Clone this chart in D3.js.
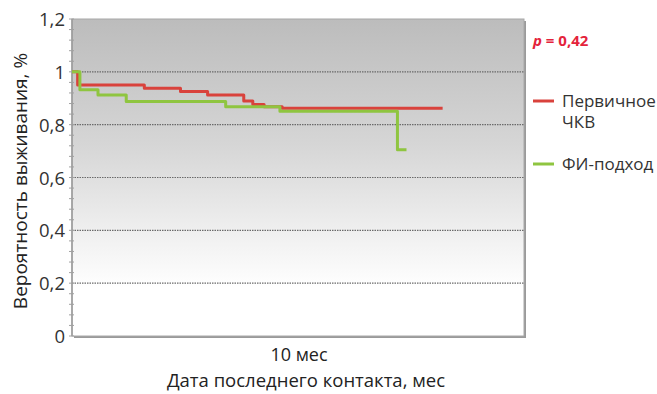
<!DOCTYPE html>
<html>
<head>
<meta charset="utf-8">
<script src="https://cdn.jsdelivr.net/npm/d3@7/dist/d3.min.js"></script>
<style>
  html, body { margin: 0; padding: 0; background: #fff; }
  svg { display: block; font-family: "Open Sans", "Noto Sans", sans-serif; }
</style>
</head>
<body>
<svg id="chart" width="657" height="394"></svg>
<script>
// Survival curves (months, probability)
const primaryTimes  = [0, 0.25, 3.2, 4.8, 6.0, 7.6, 8.0, 8.5, 9.3, 16.4];
const primaryValues = [1.0, 0.95, 0.938, 0.926, 0.912, 0.89, 0.876, 0.868, 0.862, 0.862];
const fiTimes  = [0, 0.35, 1.15, 2.4, 6.8, 9.2, 14.4, 14.8];
const fiValues = [1.0, 0.932, 0.912, 0.888, 0.868, 0.851, 0.705, 0.705];

const yTicks = [0, 0.2, 0.4, 0.6, 0.8, 1.0, 1.2];
const yTickLabels = ["0", "0,2", "0,4", "0,6", "0,8", "1", "1,2"];
const xTicks = [10];
const xTickLabels = ["10 мес"];
const seriesNames = ["Первичное ЧКВ", "ФИ-подход"];
const pValueLabel = "0,42";

const svg = d3.select("#chart");
const plotLeft = 72, plotRight = 524, plotTop = 19, plotBottom = 336;

const x = d3.scaleLinear().domain([0, 20]).range([plotLeft, plotRight]);
const y = d3.scaleLinear().domain([0, 1.2]).range([plotBottom, plotTop]);

// background gradient
const defs = svg.append("defs");
const grad = defs.append("linearGradient").attr("id", "bg")
  .attr("x1", 0).attr("y1", 0).attr("x2", 0).attr("y2", 1);
grad.append("stop").attr("offset", "0%").attr("stop-color", "#bcbcbc");
grad.append("stop").attr("offset", "40%").attr("stop-color", "#d6d6d6");
grad.append("stop").attr("offset", "70%").attr("stop-color", "#f2f2f2");
grad.append("stop").attr("offset", "85%").attr("stop-color", "#ffffff");
grad.append("stop").attr("offset", "100%").attr("stop-color", "#ffffff");

// frame shadow
svg.append("rect")
  .attr("x", plotLeft + 2).attr("y", plotTop + 2)
  .attr("width", plotRight - plotLeft).attr("height", plotBottom - plotTop)
  .attr("fill", "#9a9a9a");
svg.append("rect")
  .attr("x", plotLeft).attr("y", plotTop)
  .attr("width", plotRight - plotLeft).attr("height", plotBottom - plotTop)
  .attr("fill", "url(#bg)")
  .attr("stroke", "#a8a8a8").attr("stroke-width", 1);

// dotted gridlines
svg.append("g").selectAll("line")
  .data(yTicks.filter(d => d > 0 && d < 1.2))
  .join("line")
  .attr("x1", plotLeft).attr("x2", plotRight)
  .attr("y1", d => y(d)).attr("y2", d => y(d))
  .attr("stroke", "#6a6a6a").attr("stroke-width", 1.2)
  .attr("stroke-dasharray", "1.5,1");

// left axis with minor ticks
const minor = d3.range(0, 1.2001, 0.04);
const yAxis = svg.append("g");
yAxis.append("line")
  .attr("x1", plotLeft).attr("x2", plotLeft).attr("y1", plotTop).attr("y2", plotBottom)
  .attr("stroke", "#9a9a9a").attr("stroke-width", 1.5);
yAxis.selectAll("line.tick")
  .data(minor)
  .join("line").attr("class", "tick")
  .attr("x1", plotLeft - 3).attr("x2", plotLeft + 2)
  .attr("y1", d => y(d)).attr("y2", d => y(d))
  .attr("stroke", "#a0a0a0").attr("stroke-width", 1);
yAxis.selectAll("text")
  .data(yTicks)
  .join("text")
  .attr("x", plotLeft - 7).attr("y", d => y(d))
  .attr("dy", "0.38em")
  .attr("text-anchor", "end")
  .attr("font-size", 18.5)
  .attr("fill", "#333")
  .text((d, i) => yTickLabels[i]);

// x tick labels
svg.append("g").selectAll("text")
  .data(xTicks)
  .join("text")
  .attr("x", d => x(d) + 1).attr("y", 361)
  .attr("text-anchor", "middle")
  .attr("font-size", 18)
  .attr("fill", "#222")
  .text((d, i) => xTickLabels[i]);

// axis titles
svg.append("text")
  .attr("x", 306).attr("y", 387)
  .attr("text-anchor", "middle")
  .attr("font-size", 18.5)
  .attr("fill", "#222")
  .text("Дата последнего контакта, мес");
svg.append("text")
  .attr("transform", `translate(27, 181) rotate(-90)`)
  .attr("text-anchor", "middle")
  .attr("font-size", 19)
  .attr("fill", "#222")
  .text("Вероятность выживания, %");

// curves
const line = d3.line()
  .x(d => x(d[0])).y(d => y(d[1]))
  .curve(d3.curveStepAfter);
const primary = primaryTimes.map((t, i) => [t, primaryValues[i]]);
const fi = fiTimes.map((t, i) => [t, fiValues[i]]);
const colors = ["#d9423c", "#8fc540"];

svg.append("path").datum(primary)
  .attr("d", line).attr("fill", "none")
  .attr("stroke", colors[0]).attr("stroke-width", 3)
  .attr("stroke-linejoin", "round");
svg.append("path").datum(fi)
  .attr("d", line).attr("fill", "none")
  .attr("stroke", colors[1]).attr("stroke-width", 3)
  .attr("stroke-linejoin", "round");

// p-value
const p = svg.append("text")
  .attr("x", 533).attr("y", 46)
  .attr("font-size", 15).attr("font-weight", "bold")
  .attr("fill", "#e4233b");
p.append("tspan").attr("font-style", "italic").text("p");
p.append("tspan").text(" = " + pValueLabel);

// legend
const legend = svg.append("g");
const legendRows = [
  { y: 101, lines: ["Первичное", "ЧКВ"] },
  { y: 164, lines: ["ФИ-подход"] }
];
legendRows.forEach((r, i) => {
  legend.append("line")
    .attr("x1", 533).attr("x2", 554)
    .attr("y1", r.y).attr("y2", r.y)
    .attr("stroke", colors[i]).attr("stroke-width", 3);
  r.lines.forEach((s, j) => {
    legend.append("text")
      .attr("x", 562).attr("y", r.y + j * 21)
      .attr("dy", "0.35em")
      .attr("font-size", 17)
      .attr("fill", "#333")
      .text(s);
  });
});
</script>
</body>
</html>
